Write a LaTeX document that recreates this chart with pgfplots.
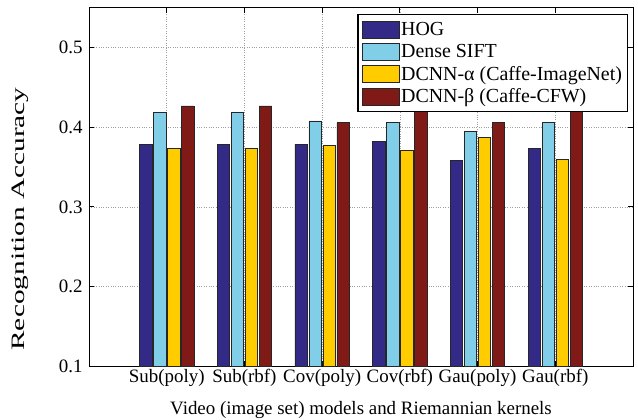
\documentclass[border=0pt]{standalone}
\usepackage{pgfplots}
\pgfplotsset{compat=1.18}
\usepackage{fontspec}
\setmainfont{Liberation Serif}
\usepackage{graphicx}
\definecolor{hog}{RGB}{51,42,135}
\definecolor{sift}{RGB}{128,206,232}
\definecolor{dcnna}{RGB}{255,204,0}
\definecolor{dcnnb}{RGB}{127,26,22}
\newcommand{\ff}{\fontsize{19}{22}\selectfont}
\newcommand{\fl}{\fontsize{20}{22}\selectfont}
\begin{document}
\begin{tikzpicture}
\begin{axis}[
  scale only axis, width=544bp, height=358bp,
  xmin=0, xmax=7, ymin=0.1, ymax=0.55,
  xtick={1,2,3,4,5,6},
  xticklabels={Sub(poly),Sub(rbf),Cov(poly),Cov(rbf),Gau(poly),Gau(rbf)},
  ytick={0.1,0.2,0.3,0.4,0.5},
  yticklabel style={/pgf/number format/fixed,/pgf/number format/fixed zerofill,/pgf/number format/precision=1},
  /pgf/number format/assume math mode=true,
  tick label style={font=\ff},
  label style={font=\ff},
  tick align=inside, major tick length=5bp,
  tick style={black, line width=0.8pt},
  axis line style={black, line width=1pt},
  xmajorgrids, ymajorgrids,
  grid style={dotted, gray!75, line width=0.7pt},
  xticklabel style={inner sep=1bp, yshift=-2bp},
  yticklabel style={xshift=-3bp},
  xlabel={Video (image set) models and Riemannian kernels},
  xlabel style={at={(axis description cs:0.5,0)}, anchor=north, yshift=-32bp},
  ylabel={\scalebox{1.55}[1]{Recognition Accuracy}},
  ylabel style={at={(axis description cs:-0.1268,0.4106)}, anchor=center},
  legend style={at={(0.991,0.983)}, anchor=north east, draw=black, line width=1.2pt, font=\fl, inner xsep=4bp, inner ysep=6bp, row sep=4.2bp, fill=white, nodes={inner sep=1.5bp}},
  legend cell align=left,
  mybar/.style={ybar, bar width=0.16, draw=black!85, line width=0.7pt,
    legend image code/.code={\draw[##1, line width=0.7pt] (0bp,-8.5bp) rectangle (37bp,8.5bp);}},
]
\addplot[mybar, fill=hog, bar shift=-0.27] coordinates {(1,0.379) (2,0.379) (3,0.379) (4,0.382) (5,0.358) (6,0.374)};
\addplot[mybar, fill=sift, bar shift=-0.09] coordinates {(1,0.419) (2,0.419) (3,0.408) (4,0.406) (5,0.395) (6,0.406)};
\addplot[mybar, fill=dcnna, bar shift=0.09] coordinates {(1,0.374) (2,0.374) (3,0.377) (4,0.371) (5,0.387) (6,0.360)};
\addplot[mybar, fill=dcnnb, bar shift=0.27] coordinates {(1,0.427) (2,0.427) (3,0.406) (4,0.440) (5,0.406) (6,0.440)};
\legend{HOG, Dense SIFT, DCNN-α (Caffe-ImageNet), DCNN-β (Caffe-CFW)}
\end{axis}
\pgfresetboundingbox
\path ([xshift=-89bp,yshift=-53bp]current axis.south west) rectangle ([xshift=5bp,yshift=8bp]current axis.north east);
\end{tikzpicture}
\end{document}
